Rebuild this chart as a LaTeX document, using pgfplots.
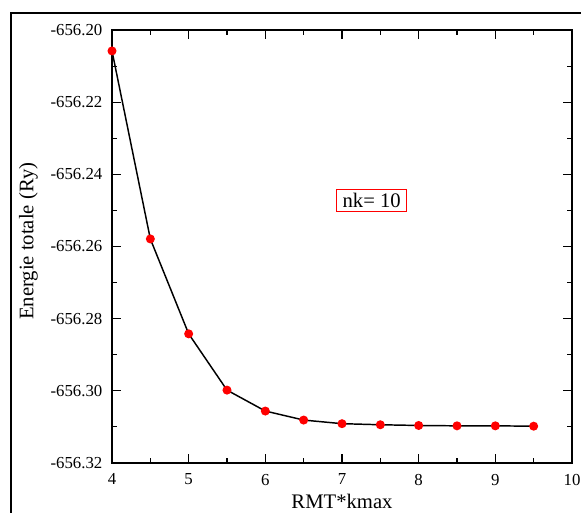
\documentclass[border=0pt]{standalone}
\usepackage{pgfplots}
\pgfplotsset{compat=1.18}
\usepackage{fontspec}
\setmainfont{Liberation Serif}
\begin{document}
\begin{tikzpicture}
\fontsize{12.5}{15}\selectfont
\useasboundingbox (0,0) rectangle (435.75pt,-384.75pt);
\draw[line width=1.1pt] (8.25pt,-384.75pt) -- (8.25pt,-9.75pt) -- (435.75pt,-9.75pt);
\begin{axis}[
  at={(84pt,-347.25pt)}, anchor=south west,
  scale only axis, width=345pt, height=324.75pt,
  xmin=4, xmax=10, ymin=-656.32, ymax=-656.20,
  xtick={4,5,6,7,8,9,10},
  ytick={-656.32,-656.30,-656.28,-656.26,-656.24,-656.22,-656.20},
  yticklabels={-656.32,-656.30,-656.28,-656.26,-656.24,-656.22,-656.20},
  minor x tick num=1, minor y tick num=1,
  tick align=inside,
  major tick length=7pt, minor tick length=3.5pt,
  axis line style={line width=1.1pt},
  every tick/.style={line width=0.8pt, black},
  /pgf/number format/assume math mode=true,
  ticklabel style={font=\fontsize{12.6}{15}\selectfont},
  xticklabel style={inner sep=0pt, yshift=-8pt},
  yticklabel style={inner sep=0pt, xshift=-7pt},
  label style={font=\fontsize{15.5}{18}\selectfont},
  xlabel={RMT*kmax},
  ylabel={Energie totale (Ry)},
  xlabel style={at={(axis description cs:0.5,-0.1062)}, anchor=base},
  ylabel style={at={(axis description cs:-0.1707,0.512)}, anchor=base},
]
\addplot[black, line width=1.1pt, mark=*, mark size=2.8pt,
  mark options={fill=red, draw=red}] coordinates {
(4.0,-656.2058)
(4.5,-656.2579)
(5.0,-656.2842)
(5.5,-656.2998)
(6.0,-656.3056)
(6.5,-656.3081)
(7.0,-656.3091)
(7.5,-656.3094)
(8.0,-656.3096)
(8.5,-656.3097)
(9.0,-656.3097)
(9.5,-656.3098)
};
\node[draw=red, line width=0.8pt, fill=white, inner xsep=4.5pt, inner ysep=3pt, font=\fontsize{15.5}{18}\selectfont] at (axis cs:7.387,-656.2473) {nk= 10};
\end{axis}
\end{tikzpicture}
\end{document}
